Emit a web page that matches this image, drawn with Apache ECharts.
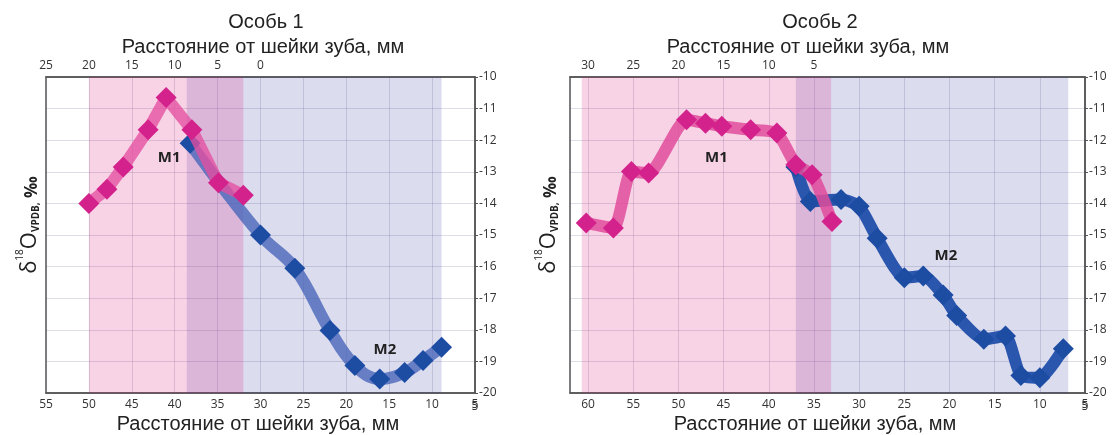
<!DOCTYPE html>
<html><head><meta charset="utf-8">
<script src="https://cdn.jsdelivr.net/npm/echarts@6/dist/echarts.min.js"></script>
<style>html,body{margin:0;padding:0;background:#fff}#c{width:1115px;height:435px}</style>
</head><body><div id="c"></div>
<script>
// ---------- DATA ----------
var titleLeft = 'Особь 1';
var titleRight = 'Особь 2';
var axisTitle = 'Расстояние от шейки зуба, мм';
var labelM1 = 'M1';
var labelM2 = 'M2';

// Особь 1 (distance from tooth neck, mm ; δ18O, ‰)
var xL_M1 = [50.0, 47.9, 46.0, 43.1, 41.0, 38.0, 34.9, 32.0];
var yL_M1 = [-14.0, -13.55, -12.85, -11.67, -10.65, -11.67, -13.35, -13.74];
var xL_M2 = [38.2, 30.0, 26.0, 21.9, 19.0, 16.1, 13.2, 11.05, 8.9];
var yL_M2 = [-12.1, -15.0, -16.05, -18.02, -19.13, -19.56, -19.35, -18.97, -18.55];

// Особь 2
var xR_M1 = [60.2, 57.2, 55.2, 53.3, 49.1, 47.0, 45.2, 42.0, 39.1, 37.0, 35.2, 33.0];
var yR_M1 = [-14.62, -14.78, -12.99, -13.04, -11.35, -11.46, -11.56, -11.67, -11.77, -12.78, -13.09, -14.57];
var xR_M2 = [37.0, 35.4, 32.0, 30.0, 28.0, 25.0, 22.9, 20.7, 19.2, 16.2, 13.8, 12.1, 10.0, 7.4];
var yR_M2 = [-12.85, -13.94, -13.88, -14.09, -15.1, -16.35, -16.3, -16.9, -17.55, -18.3, -18.2, -19.45, -19.52, -18.6];

// tooth spans (mm, bottom axis)
var spanL_M1 = [50, 32];
var spanL_M2 = [38.6, 8.9];
var spanR_M1 = [60.7, 33.1];
var spanR_M2 = [37.0, 6.85];

// label anchors (data coords)
var lblL_M1 = [40.65, -12.57];
var lblL_M2 = [15.5, -18.62];
var lblR_M1 = [45.8, -12.55];
var lblR_M2 = [20.4, -15.65];

// bottom-axis end tick value (shown at right edge)
var xEndTick = 5;

// ---------- STYLE ----------
var tickFont = 'Open Sans';
var titleFont = 'Liberation Sans';
var pinkShade = 'rgba(217,22,122,0.19)';
var blueShade = 'rgba(60,60,165,0.18)';
var gridColor = 'rgba(100,100,140,0.22)';
var borderColor = '#555';

function zip(xs, ys) { return xs.map(function (x, i) { return [x, ys[i]]; }); }

function xBottom(gi, min, max, maxLabel) {
  return {
    gridIndex: gi, type: 'value', position: 'bottom', inverse: true,
    min: min, max: max, interval: 5,
    axisLine: {show: true, onZero: false, lineStyle: {color: borderColor, width: 1.5}},
    axisTick: {show: false},
    axisLabel: {color: '#333', fontSize: 12, fontFamily: tickFont, margin: 6,
      showMinLabel: true, showMaxLabel: true, hideOverlap: false,
      formatter: function (v) { return v <= maxLabel ? String(v) : ''; }},
    splitLine: {show: true, lineStyle: {color: gridColor, width: 1}}
  };
}
function xTop(gi, min, max, lo, hi) {
  return {
    gridIndex: gi, type: 'value', position: 'top', inverse: true,
    min: min, max: max, interval: 5,
    axisLine: {show: true, onZero: false, lineStyle: {color: borderColor, width: 1.5}},
    axisTick: {show: false},
    axisLabel: {color: '#333', fontSize: 12, fontFamily: tickFont, margin: 5,
      showMinLabel: true, showMaxLabel: true,
      formatter: function (v) { return (v >= lo && v <= hi) ? String(v) : ''; }},
    splitLine: {show: false}
  };
}
function yRight(gi) {
  return {
    gridIndex: gi, type: 'value', position: 'right',
    min: -20, max: -10, interval: 1,
    axisLine: {show: true, onZero: false, lineStyle: {color: borderColor, width: 1.5}},
    axisTick: {show: true, length: 3, lineStyle: {color: borderColor}},
    axisLabel: {color: '#333', fontSize: 12, fontFamily: tickFont, margin: 4,
      showMinLabel: true, showMaxLabel: true},
    splitLine: {show: true, lineStyle: {color: gridColor, width: 1}}
  };
}
function shadeSeries(xi, yi, m1, m2) {
  return {
    type: 'line', xAxisIndex: xi, yAxisIndex: yi, data: [], silent: true, z: 1,
    markArea: {silent: true, data: [
      [{xAxis: m2[0], itemStyle: {color: blueShade}}, {xAxis: m2[1]}],
      [{xAxis: m1[0], itemStyle: {color: pinkShade}}, {xAxis: m1[1]}]
    ]}
  };
}
function dataSeries(xi, yi, xs, ys, lineColor, markColor, smooth, z, lbl, lblText) {
  return {
    type: 'line', xAxisIndex: xi, yAxisIndex: yi, data: zip(xs, ys), z: z,
    smooth: smooth, symbol: 'diamond', symbolSize: 21, showSymbol: true,
    lineStyle: {color: lineColor, width: 12, join: 'round', cap: 'round'},
    itemStyle: {color: markColor},
    markPoint: {
      symbol: 'circle', symbolSize: 0, itemStyle: {color: 'transparent'},
      label: {show: true, position: 'inside', formatter: lblText, fontSize: 15,
        fontWeight: 'bold', color: '#222', fontFamily: tickFont},
      data: [{coord: lbl}]
    }
  };
}

function text(x, y, str, size) {
  return {
    type: 'text', x: x, y: y, silent: true,
    style: {text: str, fontSize: size, fontFamily: titleFont, fill: '#222',
      align: 'center', verticalAlign: 'middle'}
  };
}
function yName(x, y) {
  return {
    type: 'text', x: x, y: y, rotation: Math.PI / 2, silent: true,
    style: {
      text: '{d|δ}{s|18}{d|O}{b|VPDB,}{c| ‰}',
      align: 'center', verticalAlign: 'middle', fill: '#222',
      rich: {
        d: {fontSize: 22, fontFamily: tickFont, fill: '#222', lineHeight: 26, verticalAlign: 'bottom'},
        s: {fontSize: 10, fontFamily: tickFont, fill: '#222', lineHeight: 22, verticalAlign: 'top'},
        b: {fontSize: 10, fontFamily: tickFont, fontWeight: 'bold', fill: '#222', lineHeight: 26, verticalAlign: 'bottom'},
        c: {fontSize: 17, fontFamily: tickFont, fontWeight: 'bold', fill: '#222', lineHeight: 26, verticalAlign: 'bottom'}
      }
    }
  };
}

var option = {
  animation: false,
  backgroundColor: '#fff',
  grid: [
    {left: 46, right: 640, top: 77, bottom: 42, show: true, borderColor: borderColor, borderWidth: 1.5, backgroundColor: '#fff'},
    {left: 570, right: 30, top: 77, bottom: 42, show: true, borderColor: borderColor, borderWidth: 1.5, backgroundColor: '#fff'}
  ],
  xAxis: [
    xBottom(0, 5, 55, 55),
    xTop(0, -25, 25, 0, 25),
    xBottom(1, 5, 62, 60),
    xTop(1, -25, 32, 5, 30)
  ],
  yAxis: [yRight(0), yRight(1)],
  series: [
    shadeSeries(0, 0, spanL_M1, spanL_M2),
    dataSeries(0, 0, xL_M2, yL_M2, 'rgba(70,100,185,0.78)', '#1d4ca3', 0.4, 3, lblL_M2, labelM2),
    dataSeries(0, 0, xL_M1, yL_M1, 'rgba(228,80,160,0.78)', '#d4228c', false, 4, lblL_M1, labelM1),
    shadeSeries(2, 1, spanR_M1, spanR_M2),
    dataSeries(2, 1, xR_M2, yR_M2, '#2a56ae', '#1d4ca3', 0.2, 3, lblR_M2, labelM2),
    dataSeries(2, 1, xR_M1, yR_M1, 'rgba(225,75,155,0.85)', '#d4228c', 0.2, 4, lblR_M1, labelM1)
  ],
  graphic: [
    text(266, 22, titleLeft, 20),
    text(263, 47, axisTitle, 20),
    text(258, 424, axisTitle, 20),
    text(820, 22, titleRight, 20),
    text(808, 47, axisTitle, 20),
    text(815, 424, axisTitle, 20),
    yName(28, 225),
    yName(547, 225)
  ]
};
var chart = echarts.init(document.getElementById('c'));
window.chart = chart;
chart.setOption(option);

// end-of-axis tick label "5" (ECharts hides it next to the y-axis labels), placed via the axis scale
function endLabel(xAxisIndex, yAxisIndex) {
  var px = chart.convertToPixel({xAxisIndex: xAxisIndex}, xEndTick);
  var py = chart.convertToPixel({yAxisIndex: yAxisIndex}, -20);
  return {
    type: 'text', x: px, y: py + 14, silent: true,
    style: {text: String(xEndTick), fontSize: 12, fontFamily: tickFont, fill: '#333',
      align: 'center', verticalAlign: 'middle'}
  };
}
var g = option.graphic.slice();
g.push(endLabel(0, 0));
g.push(endLabel(2, 1));
chart.setOption({graphic: g});
</script></body></html>
